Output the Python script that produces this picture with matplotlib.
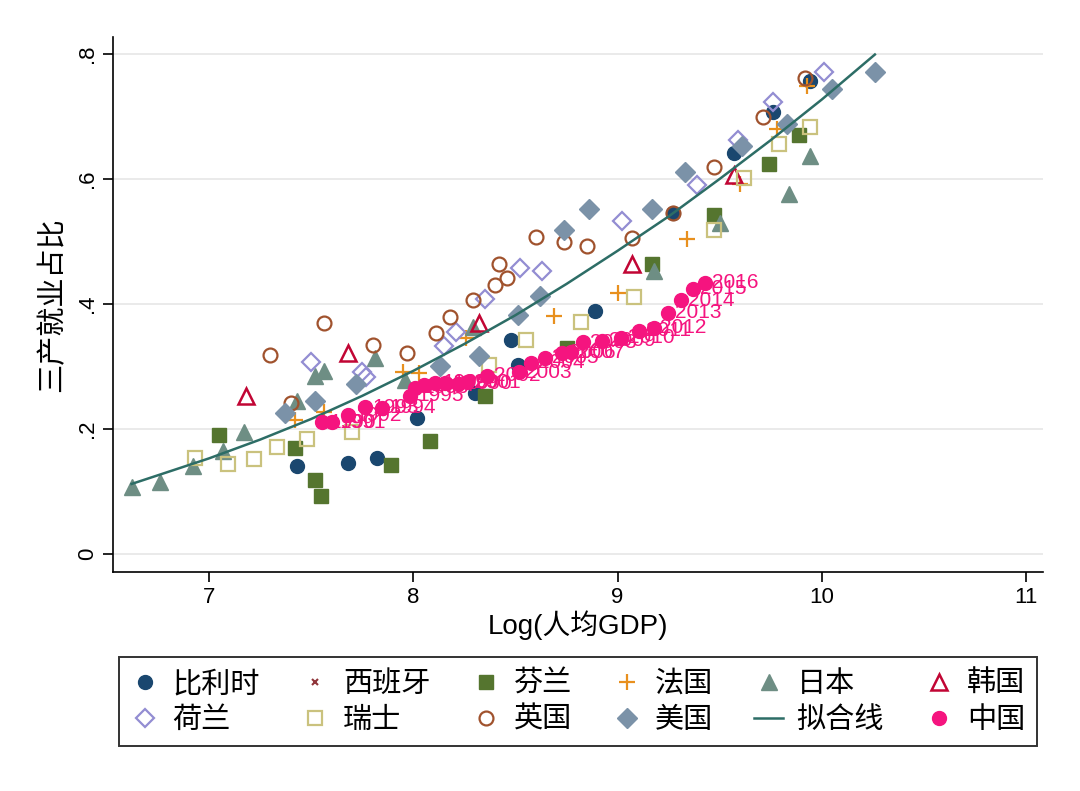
import matplotlib
matplotlib.use("Agg")
import matplotlib.pyplot as plt

plt.rcParams["font.family"] = ["Liberation Sans", "Noto Sans CJK SC", "DejaVu Sans"]

# log GDP per capita (x) and tertiary employment share (y)
belgium_x = [7.43, 7.68, 7.82, 8.02, 8.30, 8.48, 8.51, 8.89, 9.27, 9.57, 9.76, 9.94]
belgium_y = [0.141, 0.146, 0.154, 0.218, 0.258, 0.342, 0.302, 0.389, 0.546, 0.642, 0.707, 0.757]

spain_x = []
spain_y = []

finland_x = [7.05, 7.42, 7.52, 7.55, 7.89, 8.08, 8.35, 8.75, 9.17, 9.47, 9.74, 9.89]
finland_y = [0.190, 0.170, 0.118, 0.093, 0.142, 0.181, 0.253, 0.330, 0.464, 0.542, 0.624, 0.670]

france_x = [7.42, 7.56, 7.95, 8.03, 8.26, 8.69, 9.00, 9.34, 9.60, 9.78, 9.93]
france_y = [0.214, 0.227, 0.291, 0.290, 0.346, 0.381, 0.418, 0.504, 0.592, 0.680, 0.749]

japan_x = [6.62, 6.76, 6.92, 7.07, 7.17, 7.43, 7.52, 7.56, 7.81, 7.96, 8.29, 9.18, 9.50, 9.84, 9.94]
japan_y = [0.107, 0.115, 0.141, 0.165, 0.195, 0.245, 0.285, 0.293, 0.314, 0.278, 0.363, 0.453, 0.530, 0.576, 0.637]

korea_x = [7.18, 7.68, 8.32, 9.07, 9.57]
korea_y = [0.253, 0.322, 0.370, 0.464, 0.606]

netherlands_x = [7.50, 7.75, 7.77, 8.15, 8.21, 8.35, 8.52, 8.63, 9.02, 9.39, 9.59, 9.76, 10.01]
netherlands_y = [0.307, 0.291, 0.283, 0.333, 0.355, 0.408, 0.458, 0.452, 0.533, 0.590, 0.662, 0.723, 0.771]

swiss_x = [6.93, 7.09, 7.22, 7.33, 7.48, 7.70, 8.37, 8.55, 8.82, 9.08, 9.47, 9.62, 9.79, 9.94]
swiss_y = [0.154, 0.144, 0.152, 0.171, 0.184, 0.195, 0.302, 0.342, 0.371, 0.411, 0.518, 0.601, 0.656, 0.683]

uk_x = [7.30, 7.40, 7.56, 7.80, 7.97, 8.11, 8.18, 8.29, 8.40, 8.42, 8.46, 8.60, 8.74, 8.85,
        9.07, 9.27, 9.47, 9.71, 9.92]
uk_y = [0.318, 0.242, 0.370, 0.334, 0.321, 0.354, 0.379, 0.406, 0.430, 0.464, 0.441, 0.507, 0.499, 0.493,
        0.506, 0.546, 0.619, 0.699, 0.762]

usa_x = [7.37, 7.52, 7.72, 8.13, 8.32, 8.51, 8.62, 8.74, 8.86, 9.17, 9.33, 9.61, 9.83, 10.05, 10.26]
usa_y = [0.226, 0.245, 0.272, 0.301, 0.317, 0.382, 0.413, 0.518, 0.552, 0.552, 0.611, 0.653, 0.688, 0.744, 0.771]

china_years = list(range(1990, 2017))
china_x = [7.554, 7.603, 7.681, 7.765, 7.848, 7.985, 8.010, 8.054, 8.108, 8.157, 8.221, 8.265, 8.363,
           8.515, 8.574, 8.647, 8.730, 8.770, 8.833, 8.922, 9.015, 9.103, 9.176, 9.245, 9.309, 9.368, 9.426]
china_y = [0.211, 0.211, 0.222, 0.235, 0.234, 0.253, 0.266, 0.270, 0.274, 0.274, 0.272, 0.275, 0.285,
           0.291, 0.306, 0.314, 0.322, 0.323, 0.339, 0.341, 0.346, 0.357, 0.362, 0.386, 0.406, 0.424, 0.434]

# quadratic fit line
fit_x = [6.62, 6.75, 7.0, 7.25, 7.5, 7.75, 8.0, 8.25, 8.5, 8.75, 9.0, 9.25, 9.5, 9.75, 10.0, 10.26]
fit_y = [0.112, 0.126, 0.153, 0.183, 0.216, 0.253, 0.293, 0.336, 0.382, 0.432, 0.485, 0.540, 0.600, 0.662, 0.727, 0.799]

fig = plt.figure(figsize=(10.8, 7.91), dpi=100, facecolor="white")
ax = fig.add_axes([0.1046, 0.2769, 0.8611, 0.6763])

ms = 10
hb, = ax.plot(belgium_x, belgium_y, "o", ms=ms, color="#1a476f", ls="none", label="比利时")
hs, = ax.plot(spain_x, spain_y, "x", ms=5, mew=1.5, color="#90353b", ls="none", label="西班牙")
hf, = ax.plot(finland_x, finland_y, "s", ms=ms, color="#55752f", ls="none", label="芬兰")
hfr, = ax.plot(france_x, france_y, "+", ms=11, mew=1.6, color="#e8901e", ls="none", label="法国")
hj, = ax.plot(japan_x, japan_y, "^", ms=11, color="#6e8e84", ls="none", label="日本")
hk, = ax.plot(korea_x, korea_y, "^", ms=11, mfc="none", mew=1.8, color="#c10534", ls="none", label="韩国")
hn, = ax.plot(netherlands_x, netherlands_y, "D", ms=9, mfc="none", mew=1.6, color="#938dd2", ls="none", label="荷兰")
hsw, = ax.plot(swiss_x, swiss_y, "s", ms=10, mfc="none", mew=1.6, color="#cac27e", ls="none", label="瑞士")
hu, = ax.plot(uk_x, uk_y, "o", ms=10, mfc="none", mew=1.6, color="#a0522d", ls="none", label="英国")
hus, = ax.plot(usa_x, usa_y, "D", ms=10, color="#7b92a8", ls="none", label="美国")
hfit, = ax.plot(fit_x, fit_y, "-", lw=1.8, color="#2d6d66", label="拟合线")
hc, = ax.plot(china_x, china_y, "o", ms=ms, color="#f5147f", ls="none", label="中国", zorder=4)

for yr, x, y in zip(china_years, china_x, china_y):
    ax.annotate(str(yr), (x, y), xytext=(5, 0), textcoords="offset points",
                ha="left", va="center", fontsize=15, color="#f5147f", zorder=5)

ax.set_xlim(6.529, 11.083)
ax.set_ylim(-0.0288, 0.827)
ax.set_xticks([7, 8, 9, 10, 11])
ax.set_yticks([0, 0.2, 0.4, 0.6, 0.8])
ax.set_yticklabels(["0", ".2", ".4", ".6", ".8"], rotation=90, va="center")
ax.tick_params(axis="both", labelsize=16, length=7, width=1.2, direction="out")
ax.grid(True, axis="y", color="#e6e6e6", lw=1.2)
ax.set_axisbelow(True)

for side in ["top", "right"]:
    ax.spines[side].set_visible(False)
for side in ["left", "bottom"]:
    ax.spines[side].set_linewidth(1.2)

ax.set_xlabel("Log(人均GDP)", fontsize=20, labelpad=2)
ax.set_ylabel("三产就业占比", fontsize=21, labelpad=8)

handles = [hb, hn, hs, hsw, hf, hu, hfr, hus, hj, hfit, hk, hc]
leg = fig.legend(handles=handles, loc="upper center", bbox_to_anchor=(0.535, 0.169), ncol=6,
                 frameon=True, fancybox=False, edgecolor="black",
                 handlelength=1.0, handletextpad=0.45, columnspacing=1.4,
                 labelspacing=0.2, borderpad=0.4, borderaxespad=0,
                 prop={"family": ["Noto Sans CJK SC", "DejaVu Sans"], "size": 21})
leg.get_frame().set_linewidth(1.4)

fig.savefig("out.png", dpi=100, facecolor="white")
